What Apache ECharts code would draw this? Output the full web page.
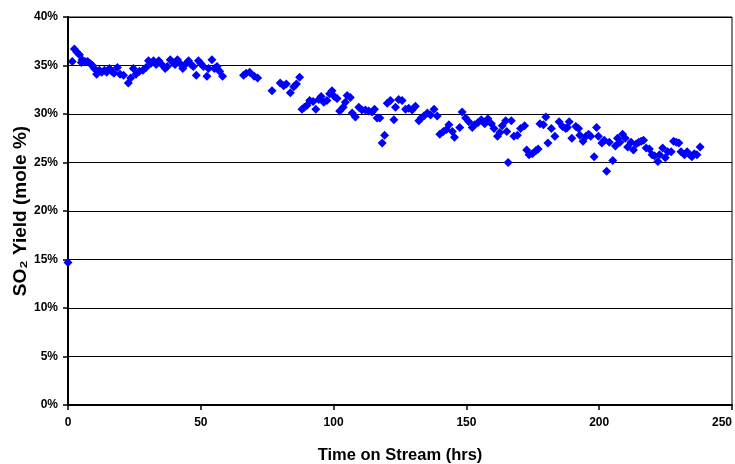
<!DOCTYPE html>
<html>
<head>
<meta charset="utf-8">
<script src="https://cdn.jsdelivr.net/npm/echarts@6/dist/echarts.min.js"></script>
<style>html,body{margin:0;padding:0;background:#fff}#c{width:735px;height:464px}</style>
</head>
<body>
<div id="c"></div>
<script>
var hours = [0,1.6,2.4,3.3,4.3,5.0,5.3,6.4,7.4,8.3,9.2,9.9,10.8,11.8,12.7,13.7,14.6,15.6,16.5,17.3,18.6,19.6,20.9,22.7,23.6,24.6,25.6,26.9,28.2,29.4,30.3,31.2,32.2,33.2,34.2,35.3,36.6,37.4,38.5,39.5,40.3,41.2,42.2,43.2,44.1,45.4,46.3,47.2,48.3,49.1,50.0,51.0,52.3,52.9,54.2,55.1,56.1,57.1,58.2,
66.1,67.1,68.4,70.1,71.4,76.8,79.9,81.2,82.2,83.7,85.0,86.0,87.2,88.1,89.0,90.0,91.0,92.3,93.3,94.4,95.3,96.3,97.5,98.5,99.4,100.3,101.3,102.3,103.6,104.4,105.1,106.3,107.0,108.2,109.5,110.7,112.0,113.2,114.5,115.4,116.4,117.4,118.3,119.2,120.2,121.4,122.7,123.3,124.5,
125.8,127.1,128.3,129.6,130.8,132.1,133.0,134.0,135.3,136.5,137.8,139.0,140.0,141.3,142.5,143.4,144.7,145.5,147.5,148.4,149.7,150.9,152.2,153.1,154.3,155.6,156.9,158.1,159.4,160.4,161.7,162.6,163.5,164.8,165.2,165.7,166.9,167.9,169.2,170.4,171.9,172.7,173.6,174.8,176.1,177.0,177.7,179.0,179.9,180.7,182.0,183.3,184.9,186.2,187.4,188.0,188.7,
189.7,191.2,192.2,192.7,193.9,195.0,196.0,196.8,198.1,199.0,199.7,201.0,201.9,202.8,203.8,205.1,206.1,206.9,207.8,208.8,209.8,210.7,212.0,212.9,213.9,214.9,215.8,216.7,217.7,218.9,219.9,220.8,222.1,222.7,223.9,224.9,225.8,227.1,228.0,229.0,230.0,230.8,232.1,233.1,234.1,234.9,235.8,236.8,238.0];
var yieldPct = [14.7,35.4,36.7,36.4,36.1,35.3,35.6,35.4,35.4,35.2,35.0,34.7,34.1,34.5,34.3,34.5,34.3,34.7,34.4,34.2,34.8,34.1,34.0,33.2,33.7,34.7,34.1,34.4,34.5,34.8,35.5,35.2,35.5,35.1,35.5,35.1,34.7,34.9,35.6,35.3,35.1,35.6,35.2,34.7,35.1,35.5,35.1,34.9,34.0,35.5,35.2,34.9,33.9,34.7,35.6,34.7,34.9,34.4,33.9,
34.0,34.2,34.3,33.9,33.7,32.4,33.2,32.9,33.1,32.2,32.8,33.1,33.8,30.5,30.7,30.9,31.4,31.3,30.5,31.5,31.8,31.2,31.4,32.1,32.4,31.8,31.6,30.3,30.7,31.2,31.9,31.7,30.1,29.7,30.7,30.4,30.4,30.3,30.2,30.5,29.6,29.6,27.0,27.8,31.1,31.4,29.4,30.7,31.5,
31.4,30.5,30.6,30.4,30.8,29.3,29.6,29.8,30.1,29.9,30.5,29.8,27.9,28.2,28.4,28.9,28.2,27.6,28.6,30.2,29.6,29.2,28.6,28.9,29.1,29.4,29.0,29.5,29.0,28.5,27.7,28.1,28.8,29.3,28.2,25.0,29.3,27.7,27.8,28.5,28.8,26.3,25.8,25.9,26.2,26.4,29.0,28.9,29.7,27.0,28.5,27.7,29.2,28.7,28.5,28.6,29.2,
27.5,28.7,28.5,27.8,27.2,27.7,27.9,27.7,25.6,28.6,27.7,27.0,27.3,24.1,27.1,25.2,26.7,27.5,27.1,27.9,27.5,26.6,27.1,26.3,26.9,27.1,27.2,27.3,26.5,26.4,25.8,25.7,25.1,25.8,26.5,25.5,26.1,26.1,27.2,27.1,27.0,26.1,25.8,26.1,25.8,25.6,25.9,25.8,26.6];
var xTicks = [0,50,100,150,200,250];
var yTicks = [0,5,10,15,20,25,30,35,40];

var points = hours.map(function(h,i){return [h, yieldPct[i]];});
var chart = echarts.init(document.getElementById('c'));
var fontFam = '"Liberation Sans", Arial, sans-serif';
chart.setOption({
  animation:false,
  grid:{left:68,right:3,top:17,bottom:59,outerBoundsMode:'none',containLabel:false,show:true,borderColor:'#000',borderWidth:1,backgroundColor:'transparent'},
  xAxis:{type:'value',min:xTicks[0],max:xTicks[xTicks.length-1],interval:50,
    name:'Time on Stream (hrs)',nameLocation:'middle',nameGap:42,
    nameTextStyle:{fontFamily:fontFam,fontWeight:'bold',fontSize:16.5,color:'#000'},
    axisLine:{lineStyle:{color:'#000',width:2}},
    axisTick:{show:true,length:5,lineStyle:{color:'#000',width:1.5}},
    axisLabel:{fontFamily:fontFam,fontWeight:'bold',fontSize:12,color:'#000',margin:12,alignMaxLabel:'right'},
    splitLine:{show:false}},
  yAxis:{type:'value',min:yTicks[0],max:yTicks[yTicks.length-1],interval:5,
    name:'SO\u2082 Yield (mole %)',nameLocation:'middle',nameGap:38,nameMoveOverlap:false,
    nameTextStyle:{fontFamily:fontFam,fontWeight:'bold',fontSize:19,color:'#000'},
    axisLine:{show:true,lineStyle:{color:'#000',width:2}},
    axisTick:{show:true,length:5,lineStyle:{color:'#000',width:1.5}},
    axisLabel:{fontFamily:fontFam,fontWeight:'bold',fontSize:12,color:'#000',margin:10,formatter:'{value}%'},
    splitLine:{show:true,lineStyle:{color:'#000',width:1}}},
  series:[{type:'scatter',data:points,symbol:'diamond',symbolSize:9,
    itemStyle:{color:'#0000FF',opacity:1},clip:false}]
});
</script>
</body>
</html>
